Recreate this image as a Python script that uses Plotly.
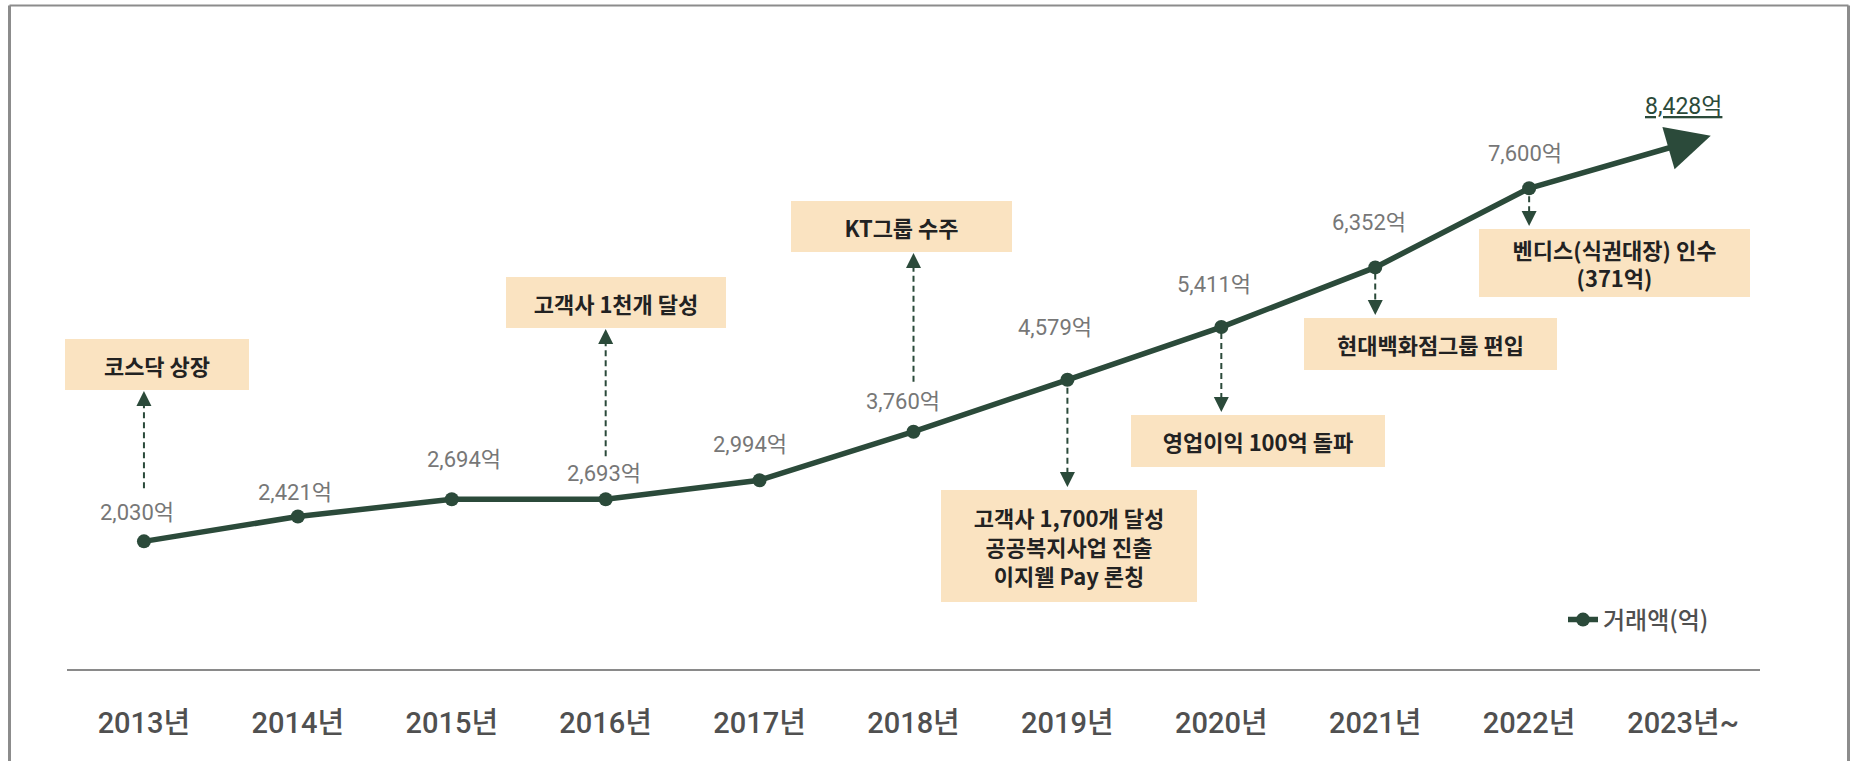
import plotly.graph_objects as go

# ---------------- data ----------------
years = [2013, 2014, 2015, 2016, 2017, 2018, 2019, 2020, 2021, 2022]
values = [2030, 2421, 2694, 2693, 2994, 3760, 4579, 5411, 6352, 7600]
target_year = 2023
target_value = 8428
tick_years = [2013, 2014, 2015, 2016, 2017, 2018, 2019, 2020, 2021, 2022, 2023]
tick_labels = ["2013년", "2014년", "2015년", "2016년", "2017년", "2018년",
               "2019년", "2020년", "2021년", "2022년", "2023년~"]
value_labels = ["2,030억", "2,421억", "2,694억", "2,693억", "2,994억", "3,760억",
                "4,579억", "5,411억", "6,352억", "7,600억"]
target_label = "8,428억"
series_name = "거래액(억)"

event_years = [2013, 2016, 2018, 2019, 2020, 2021, 2022]
event_texts = [
    "코스닥 상장",
    "고객사 1천개 달성",
    "KT그룹 수주",
    "고객사 1,700개 달성<br>공공복지사업 진출<br>이지웰 Pay 론칭",
    "영업이익 100억 돌파",
    "현대백화점그룹 편입",
    "벤디스(식권대장) 인수<br>(371억)",
]

# ---------------- layout / style ----------------
W, H = 1854, 761
X_LEFT_PX, X_RIGHT_PX = 67, 1760          # x-axis line extent
AXIS_PX = 670                             # pixel row of value 0
PX_PER_UNIT = 0.06338                     # vertical scale
Y_MIN = -(H - AXIS_PX) / PX_PER_UNIT
Y_MAX = AXIS_PX / PX_PER_UNIT

GREEN = "#2B4A3A"
BOX = "#FAE3C1"
GRAY_TXT = "#777777"
TICK_TXT = "#505050"
FRAME = "#8C8C8C"

LAT = "Roboto, 'Noto Sans CJK KR', sans-serif"
KR = "'Noto Sans CJK KR', 'Noto Sans', sans-serif"


def ypx(v):
    return AXIS_PX - v * PX_PER_UNIT


def yval(px):
    return (AXIS_PX - px) / PX_PER_UNIT


# label offsets (pixels) relative to the data points: (dx, dy)
label_offsets = [(-7, -29), (-3, -24), (12, -40), (-2, -26), (-10, -36), (-11, -30),
                 (-12, -52), (-7, -43), (-6, -45), (-4, -35)]
target_label_dy = -29
arrow_overshoot = 0.18   # arrow tip sits a little right of the 2023 column

# event boxes (pixel rects: x0, x1, y0, y1) and arrow geometry
event_boxes = [
    (65, 249, 339, 390),
    (506, 726, 277, 328),
    (791, 1012, 201, 252),
    (941, 1197, 490, 602),
    (1131, 1385, 415, 467),
    (1304, 1557, 318, 370),
    (1479, 1750, 229, 297),
]
event_dirs = ["up", "up", "up", "down", "down", "down", "down"]
arrow_gap = [53, 43, 50, 8, 6, 6, 8]     # gap between point and arrow tail
HEAD = 15

fig = go.Figure()

# event arrows (dashed)
for yr, (bx0, bx1, by0, by1), d, gap in zip(event_years, event_boxes, event_dirs, arrow_gap):
    v = values[years.index(yr)]
    p = ypx(v)
    if d == "up":
        tail = p - gap
        tip = by1 + 1
        line_end = tip + HEAD - 2
        ay = HEAD
    else:
        tail = p + gap
        tip = by0 - 3
        line_end = tip - HEAD + 2
        ay = -HEAD
    fig.add_trace(go.Scatter(
        x=[yr, yr], y=[yval(tail), yval(line_end)], mode="lines",
        line=dict(color=GREEN, width=2, dash="6px,4px"),
        hoverinfo="skip", showlegend=False))
    fig.add_annotation(x=yr, y=yval(tip), xref="x", yref="y", ax=0, ay=ay,
                       showarrow=True, arrowhead=2, arrowsize=1.5, arrowwidth=2,
                       arrowcolor=GREEN, text="")

# main series
fig.add_trace(go.Scatter(
    x=years, y=values, mode="lines+markers", name=series_name,
    line=dict(color=GREEN, width=5.5),
    marker=dict(color=GREEN, size=14),
    hoverinfo="skip"))

# final arrow segment to 2023
fig.add_annotation(x=target_year + arrow_overshoot, y=target_value, xref="x", yref="y",
                   ax=years[-1], ay=values[-1], axref="x", ayref="y",
                   showarrow=True, arrowhead=2, arrowsize=1.6, arrowwidth=5.5,
                   arrowcolor=GREEN, text="")

# value labels
for yr, v, lab, (dx, dy) in zip(years, values, value_labels, label_offsets):
    fig.add_annotation(x=yr, y=v, xref="x", yref="y", text=lab, showarrow=False,
                       xshift=dx, yshift=-dy,
                       font=dict(family=LAT, size=22, color=GRAY_TXT))
fig.add_annotation(x=target_year, y=target_value, xref="x", yref="y",
                   text='<span style="text-decoration:underline">' + target_label + '</span>',
                   showarrow=False, yshift=-target_label_dy,
                   font=dict(family=LAT, size=23, color=GREEN))

# event boxes
for (bx0, bx1, by0, by1), txt in zip(event_boxes, event_texts):
    fig.add_annotation(
        x=(bx0 + bx1) / 2 / W, y=1 - (by0 + by1) / 2 / H, xref="paper", yref="paper",
        xanchor="center", yanchor="middle", showarrow=False,
        width=bx1 - bx0, height=by1 - by0, bgcolor=BOX, borderpad=0, borderwidth=0,
        text=txt, align="center", valign="middle",
        font=dict(family=KR, size=22, color="#222222", weight=600))

# frame
for x0, y0, x1, y1, w in [(9.5, 5.5, 9.5, H + 5, 3), (9.5, 5.5, 1848.5, 5.5, 2),
                          (1848.5, 5.5, 1848.5, H + 5, 3)]:
    fig.add_shape(type="line", xref="paper", yref="paper",
                  x0=x0 / W, x1=x1 / W, y0=1 - y0 / H, y1=1 - y1 / H,
                  line=dict(color=FRAME, width=w))

fig.update_layout(
    width=W, height=H,
    margin=dict(l=0, r=0, t=0, b=0),
    paper_bgcolor="white", plot_bgcolor="white",
    showlegend=True,
    legend=dict(x=1563 / W, y=1 - 620 / H, xanchor="left", yanchor="middle",
                bgcolor="rgba(0,0,0,0)", borderwidth=0,
                font=dict(family=KR, size=24, color=TICK_TXT, weight=500)),
    xaxis=dict(domain=[X_LEFT_PX / W, X_RIGHT_PX / W], range=[2012.5, 2023.5],
               anchor="free", position=1 - AXIS_PX / H,
               showgrid=False, zeroline=False, showline=True, linecolor="#8A8A8A",
               linewidth=2, tickmode="array", tickvals=tick_years, ticktext=tick_labels,
               ticks="", ticklabelstandoff=27,
               tickfont=dict(family=LAT, size=29, color=TICK_TXT, weight=500)),
    yaxis=dict(domain=[0, 1], range=[Y_MIN, Y_MAX], visible=False, showgrid=False,
               zeroline=False),
)

fig.write_html("out.html", config={"displayModeBar": False},
               post_script="document.body.style.margin='0';")
